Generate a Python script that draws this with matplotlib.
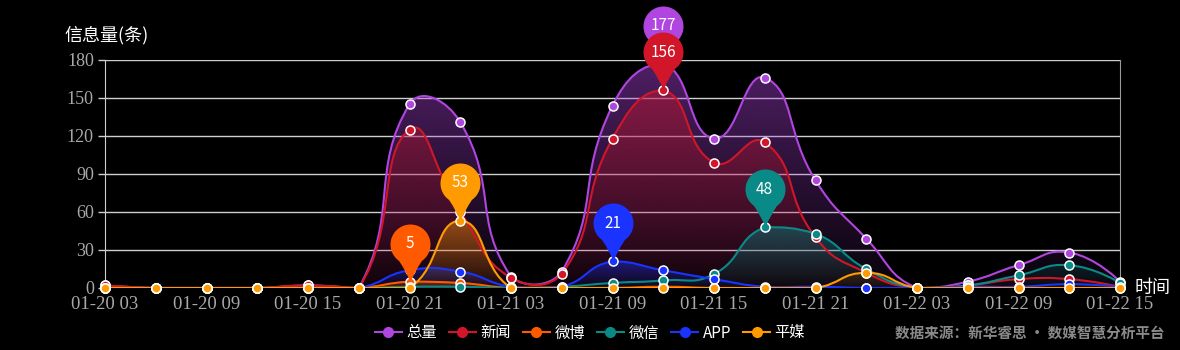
import matplotlib
matplotlib.use('Agg')
import matplotlib.pyplot as plt
import numpy as np
from matplotlib.path import Path
from matplotlib.patches import PathPatch
from matplotlib.lines import Line2D

plt.rcParams['font.family'] = ['Noto Sans CJK SC', 'DejaVu Sans']

times = ['01-20 03', '01-20 06', '01-20 09', '01-20 12', '01-20 15', '01-20 18',
         '01-20 21', '01-21 00', '01-21 03', '01-21 06', '01-21 09', '01-21 12',
         '01-21 15', '01-21 18', '01-21 21', '01-22 00', '01-22 03', '01-22 06',
         '01-22 09', '01-22 12', '01-22 15']

names = ['总量', '新闻', '微博', '微信', 'APP', '平媒']
total = [2, 0, 0, 0, 2, 0, 145, 131, 9, 13, 144, 177, 118, 166, 85, 39, 0, 5, 18, 28, 5]
news = [2, 0, 0, 0, 2, 0, 125, 60, 8, 11, 118, 156, 99, 115, 40, 12, 0, 2, 7, 7, 1]
weibo = [0, 0, 0, 0, 0, 0, 5, 4, 0, 0, 0, 1, 0, 0, 0, 0, 0, 0, 0, 0, 0]
weixin = [0, 0, 0, 0, 0, 0, 1, 1, 0, 1, 4, 6, 11, 48, 43, 15, 0, 2, 10, 18, 4]
app = [0, 0, 0, 0, 0, 0, 14, 13, 1, 1, 21, 14, 7, 1, 1, 0, 0, 1, 1, 3, 1]
pingmei = [0, 0, 0, 0, 0, 0, 0, 53, 0, 0, 0, 0, 0, 0, 0, 12, 0, 0, 0, 0, 0]
series = [total, news, weibo, weixin, app, pingmei]

colors = ['#b145e0', '#d01628', '#ff5a00', '#0a8a86', '#1a33ff', '#ff9a00']

W, H = 1180, 350
fig = plt.figure(figsize=(W / 100, H / 100), dpi=100)
fig.patch.set_facecolor('black')
L, R, T, B = 105, 1120, 60, 288
ax = fig.add_axes([L / W, 1 - B / H, (R - L) / W, (B - T) / H])
ax.set_facecolor('black')

n = len(times)
x = np.arange(n)
ymax = 180
ax.set_xlim(0, n - 1)
ax.set_ylim(0, ymax)

# pixel scale, smoothing is done in screen space like echarts
sx = (R - L) / (n - 1)
sy = (B - T) / ymax


def smooth_path(vals, smooth=0.5):
    pts = np.column_stack([x * sx, np.asarray(vals, float) * sy])
    lo, hi = pts.min(axis=0), pts.max(axis=0)
    verts = [pts[0]]
    codes = [Path.MOVETO]
    cp0 = pts[0].copy()
    for i in range(1, len(pts)):
        p, prev = pts[i], pts[i - 1]
        if i + 1 < len(pts):
            nxt = pts[i + 1]
            v = nxt - prev
            d0 = np.hypot(*(p - prev))
            d1 = np.hypot(*(p - nxt))
            ratio = d1 / (d0 + d1) if d0 + d1 > 0 else 0.5
            cp1 = p - v * smooth * (1 - ratio)
        else:
            v = np.zeros(2)
            ratio = 0.5
            cp1 = p.copy()
        c0 = np.clip(cp0, lo, hi)
        c1 = np.clip(cp1, lo, hi)
        verts += [c0, c1, p]
        codes += [Path.CURVE4] * 3
        cp0 = p + v * smooth * ratio
    verts = np.array(verts)
    verts[:, 0] /= sx
    verts[:, 1] /= sy
    return verts, codes


for vals, c in zip(series, colors):
    verts, codes = smooth_path(vals)
    # area with vertical gradient
    top = max(vals)
    if top > 0:
        av = np.vstack([verts, [[n - 1, 0], [0, 0], verts[0]]])
        ac = codes + [Path.LINETO, Path.LINETO, Path.CLOSEPOLY]
        patch = PathPatch(Path(av, ac), facecolor='none', edgecolor='none')
        ax.add_patch(patch)
        rgb = matplotlib.colors.to_rgb(c)
        grad = np.zeros((256, 1, 4))
        grad[:, 0, :3] = rgb
        grad[:, 0, 3] = np.linspace(0.45, 0.04, 256)
        im = ax.imshow(grad, extent=[0, n - 1, 0, top], origin='upper',
                       aspect='auto', zorder=1, interpolation='bilinear')
        im.set_clip_path(patch)
    ax.add_patch(PathPatch(Path(verts, codes), facecolor='none', edgecolor=c,
                           lw=1.5, zorder=3))
    ax.plot(x, vals, ls='none', marker='o', ms=6.5, mfc=c, mec='white',
            mew=1.1, zorder=4, clip_on=False)

ax.set_xlim(0, n - 1)
ax.set_ylim(0, ymax)

# pin shaped markers for the maximum of every series
r, h = 20, 38
arc = Path.arc(-55, 235)
av = arc.vertices * r + [0, h]
right = av[0]
pin_verts = np.vstack([av, [[-3, 9], [0, 0], [3, 9], right]])
pin_codes = list(arc.codes) + [Path.CURVE3, Path.CURVE3, Path.CURVE3, Path.CURVE3]
pin = Path(pin_verts, pin_codes)
ms = 2 * (h + r) * 0.72

for vals, c in zip(series, colors):
    i = int(np.argmax(vals))
    ax.plot([i], [vals[i]], ls='none', marker=pin, ms=ms, mfc=c, mec='none',
            zorder=6, clip_on=False)
    ax.annotate(str(vals[i]), (i, vals[i]), xytext=(0, h * 0.72),
                textcoords='offset points', ha='center', va='center',
                color='white', fontsize=11, zorder=7, annotation_clip=False)

ax.set_yticks(np.arange(0, 181, 30))
ax.grid(axis='y', color='#cfcfcf', lw=1)
ax.set_axisbelow(True)
ax.set_xticks(x[::2])
ax.set_xticklabels(times[::2])
ax.tick_params(axis='x', length=0, pad=6, colors='#a8a8a8', labelsize=13.5)
ax.tick_params(axis='y', length=5, width=1, color='#cfcfcf', pad=3,
               colors='#a8a8a8', labelsize=13)
for lab in ax.get_xticklabels() + ax.get_yticklabels():
    lab.set_family('Liberation Serif')
    lab.set_color('#a8a8a8')
for s in ['top', 'bottom']:
    ax.spines[s].set_visible(False)
ax.spines['left'].set_color('#cfcfcf')
ax.spines['right'].set_color('#999999')

fig.text(64 / W, 1 - 35 / H, '信息量(条)', color='white', fontsize=13,
         ha='left', va='center')
fig.text(1135 / W, 1 - 288 / H, '时间', color='white', fontsize=13,
         ha='left', va='center')

handles = [Line2D([], [], color=c, lw=1.5, marker='o', ms=7, mfc=c, mec=c)
           for c in colors]
leg = fig.legend(handles, names, loc='center', bbox_to_anchor=(590 / W, 1 - 333 / H),
                 ncol=6, frameon=False, fontsize=11, handlelength=1.75,
                 handletextpad=0.3, columnspacing=0.8, labelcolor='white')

fig.text(1165 / W, 1 - 333 / H, '数据来源：新华睿思 · 数媒智慧分析平台', color='#8a8a8a',
         fontsize=10.5, fontweight='bold', ha='right', va='center')

fig.savefig('out.png', dpi=100, facecolor='black')
